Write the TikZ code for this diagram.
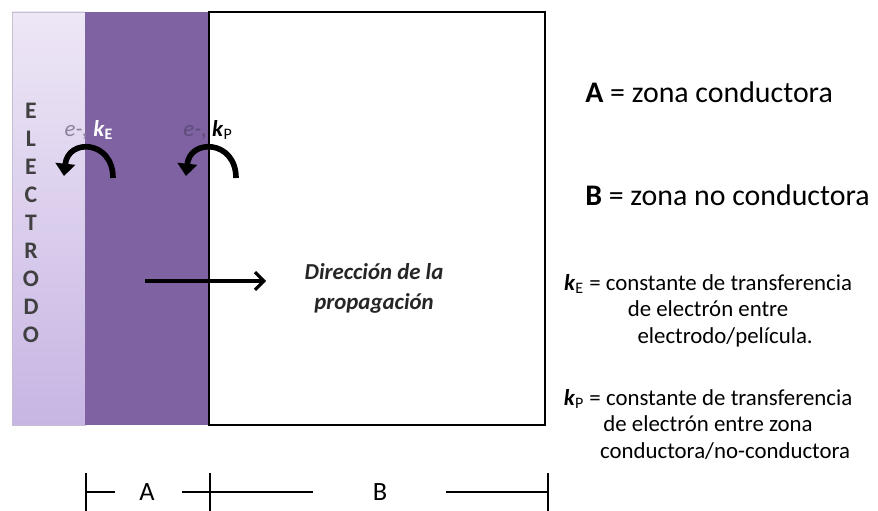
\documentclass[tikz,border=0pt]{standalone}
\usepackage{fontspec}
\setmainfont{Carlito}
\usetikzlibrary{arrows.meta}

\definecolor{electrodotop}{HTML}{EEE7F6}
\definecolor{electrodobot}{HTML}{C7B5E3}
\definecolor{zonaA}{HTML}{7E62A2}
\definecolor{grisE}{HTML}{8C82A0}
\definecolor{grisP}{HTML}{5E4D7C}

\tikzset{
  salto/.style={line width=3.2pt,-{Triangle[length=7pt,width=11pt]}},
  escala/.style={line width=1.6pt},
  leyenda/.style={font=\fontsize{17}{20}\selectfont,anchor=west,inner sep=0pt},
  definicion/.style={font=\fontsize{13}{15}\selectfont,align=center,inner sep=0pt}
}

\begin{document}
\begin{tikzpicture}[x=0.02cm,y=-0.02cm]
  \useasboundingbox (0,0) rectangle (878,510);
  \begin{scope}
    \shade[top color=electrodotop,bottom color=electrodobot] (12,12) rectangle (85,425);
    \draw[electrodobot!80!black!60] (12,12) rectangle (85,425);
    \fill[zonaA] (85,12) rectangle (209,425);
    \draw[line width=1.5pt] (209,12) rectangle (545,425);
  \end{scope}
  \foreach \letra [count=\i] in {E,L,E,C,T,R,O,D,O}
    \node[font=\fontsize{13.5}{15}\selectfont\bfseries,text=black!75] (el\i) at (31,83+28*\i) {\letra};
  \node[font=\fontsize{13}{14}\selectfont,anchor=base] (etqE) at (89,136)
    {\textcolor{grisE}{\textit{e-,}} \textcolor{white}{\textbf{\textit{k}}\textsubscript{\textbf{E}}}};
  \node[font=\fontsize{13}{14}\selectfont,anchor=base] (etqP) at (208,136)
    {\textcolor{grisP}{\textit{e-,}} \textbf{\textit{k}}\textsubscript{P}};
  \coordinate (saltoEa) at (113,178);
  \coordinate (saltoEb) at (64,176);
  \coordinate (saltoPa) at (236,178);
  \coordinate (saltoPb) at (186,176);
  \draw[salto] (saltoEa) .. controls (113,140) and (68,138) .. (saltoEb);
  \draw[salto] (saltoPa) .. controls (236,140) and (190,138) .. (saltoPb);
  \coordinate (propA) at (145,281);
  \coordinate (propB) at (266,281);
  \draw[line width=1.8pt,-{Straight Barb[length=5pt,width=10pt]}] (propA) -- (propB);
  \node[font=\fontsize{13}{17}\selectfont\bfseries\itshape,align=center,text=black!85] (prop) at (374,288)
    {Dirección de la\\propagación};
  \node[leyenda] (leyA) at (585,92) {\textbf{A} = zona conductora};
  \node[leyenda] (leyB) at (585,195) {\textbf{B} = zona no conductora};
  \node[definicion,anchor=north] (defE) at (708,274)
    {\textbf{\textit{k}}\textsubscript{E} = constante de transferencia\\de electrón entre\\\hspace{1.5em}electrodo/película.};
  \node[definicion,anchor=north] (defP) at (708,389)
    {\textbf{\textit{k}}\textsubscript{P} = constante de transferencia\\de electrón entre zona\\\hspace{1.5em}conductora/no-conductora};
  \coordinate (t1) at (86,492);
  \coordinate (t2) at (210,492);
  \coordinate (t3) at (548,492);
  \node[font=\fontsize{15}{17}\selectfont] (escA) at (147,492) {A};
  \node[font=\fontsize{15}{17}\selectfont] (escB) at (380,492) {B};
  \draw[escala] (86,473) -- (86,512);
  \draw[escala] (210,473) -- (210,512);
  \draw[escala] (548,473) -- (548,512);
  \draw[escala] (t1) -- (115,492);
  \draw[escala] (182,492) -- (t2) -- (313,492);
  \draw[escala] (446,492) -- (t3);
\end{tikzpicture}
\end{document}
